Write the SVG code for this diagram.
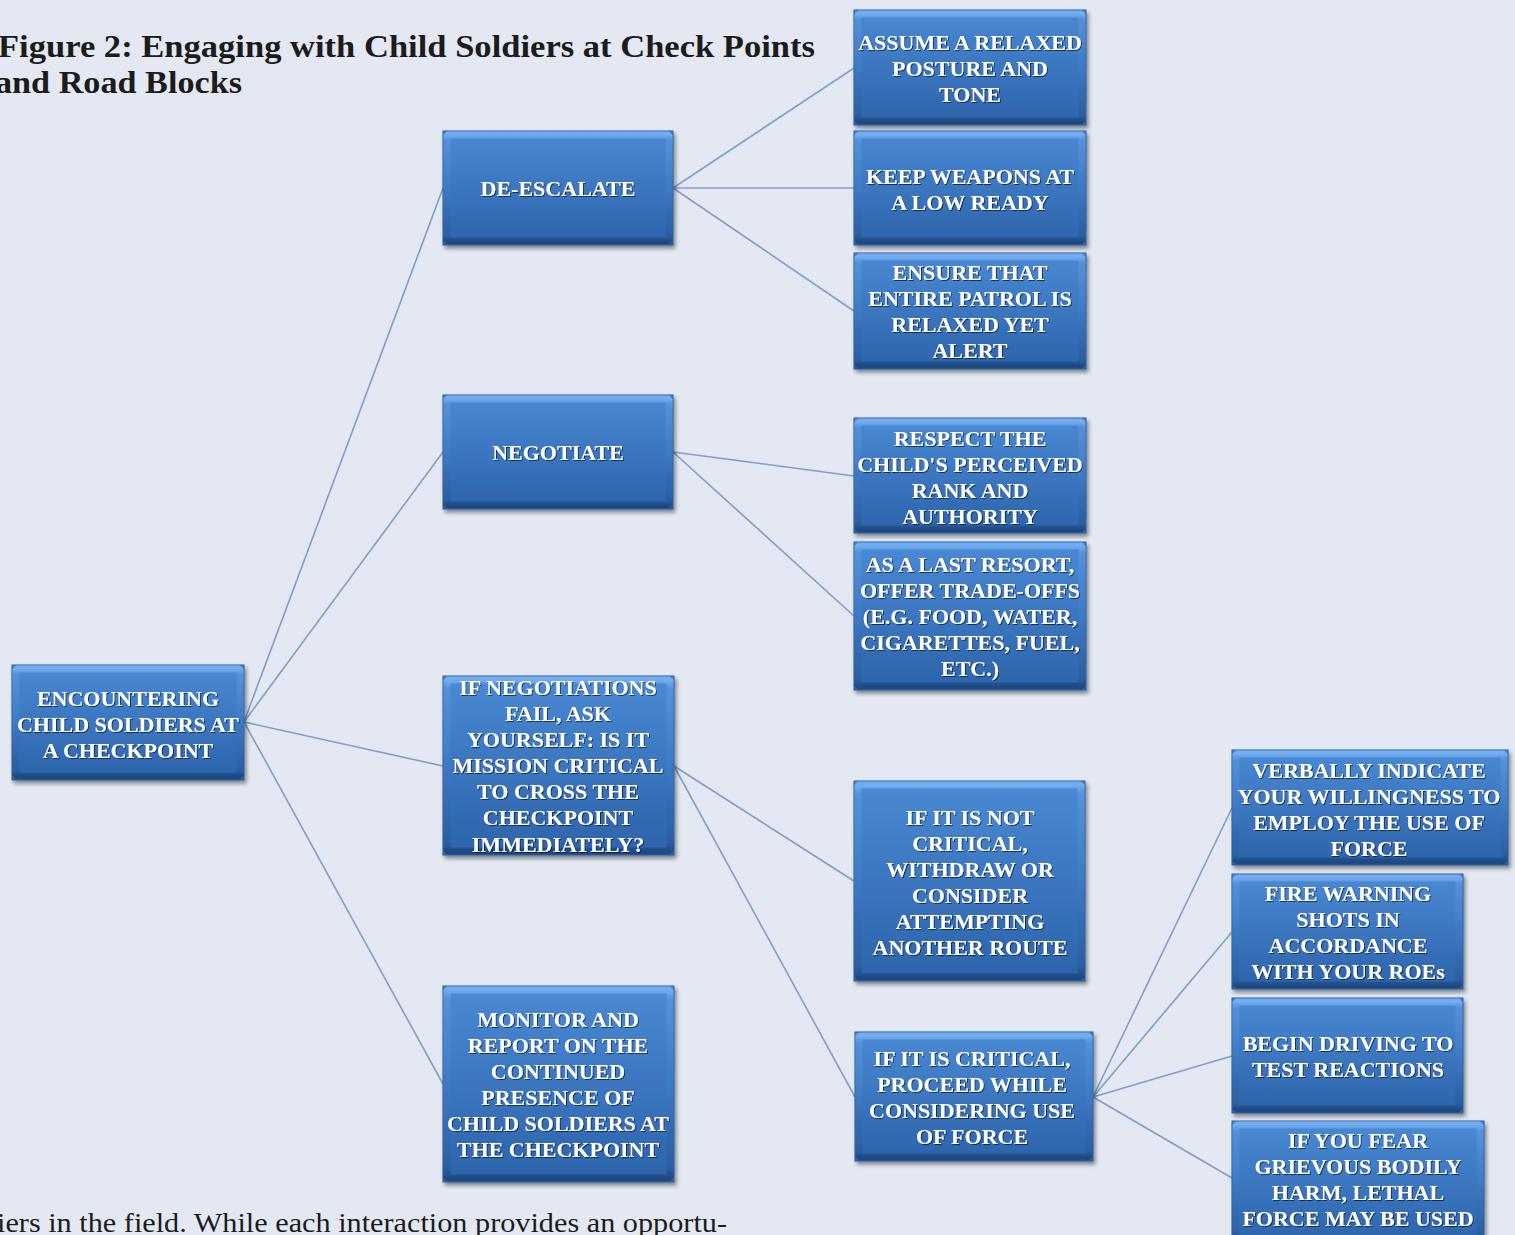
<svg xmlns="http://www.w3.org/2000/svg" width="1515" height="1235" viewBox="0 0 1515 1235">
<defs>
<linearGradient id="g" x1="0" y1="0" x2="0" y2="1">
<stop offset="0" stop-color="#4a8ad4"/>
<stop offset="1" stop-color="#2c63aa"/>
</linearGradient>
<linearGradient id="bev" x1="0" y1="0" x2="0" y2="1">
<stop offset="0" stop-color="#72adf0"/>
<stop offset="0.05" stop-color="#5591da"/>
<stop offset="0.5" stop-color="#3d7ac5"/>
<stop offset="0.95" stop-color="#2a5ea2"/>
<stop offset="1" stop-color="#1e4a84"/>
</linearGradient>
<filter id="ds" x="-5%" y="-5%" width="115%" height="115%">
<feGaussianBlur in="SourceAlpha" stdDeviation="2"/>
<feOffset dx="2" dy="3"/>
<feComponentTransfer><feFuncA type="linear" slope="0.45"/></feComponentTransfer>
<feMerge><feMergeNode/><feMergeNode in="SourceGraphic"/></feMerge>
</filter>
<filter id="ts" x="-5%" y="-20%" width="110%" height="140%">
<feOffset in="SourceAlpha" dx="1" dy="1"/>
<feComponentTransfer><feFuncA type="linear" slope="0.6"/></feComponentTransfer>
<feMerge><feMergeNode/><feMergeNode in="SourceGraphic"/></feMerge>
</filter>
</defs>
<style>
.bx{fill:url(#g);stroke:#2a5b9c;stroke-width:1;filter:url(#ds)}
.bv{fill:none;stroke:url(#bev);stroke-width:7;stroke-linejoin:bevel}
.t{font-family:"Liberation Serif","DejaVu Serif",serif;font-weight:bold;font-size:22px;fill:#ffffff;text-anchor:middle;filter:url(#ts)}
.c{fill:none;stroke:#7f9fcb;stroke-width:1.6}
.title{font-family:"Liberation Serif","DejaVu Serif",serif;font-weight:bold;font-size:32px;fill:#1c1c1c}
.body{font-family:"Liberation Serif","DejaVu Serif",serif;font-size:27px;fill:#1c1c1c}
</style>
<rect width="1515" height="1235" fill="#e3e8f2"/>
<g id="title">
<text class="title" x="-2" y="57" textLength="817" lengthAdjust="spacingAndGlyphs">Figure 2:  Engaging with Child Soldiers at Check Points</text>
<text class="title" x="-5" y="93" textLength="247" lengthAdjust="spacingAndGlyphs">and Road Blocks</text>
</g>
<text class="body" x="-3" y="1232" textLength="730" lengthAdjust="spacingAndGlyphs">iers in the field.  While each interaction provides an opportu-</text>
<g id="connectors">
<path class="c" d="M244,722 L443,188"/>
<path class="c" d="M244,722 L443,452"/>
<path class="c" d="M244,722 L443,766"/>
<path class="c" d="M244,722 L443,1084"/>
<path class="c" d="M673,188 L854,68"/>
<path class="c" d="M673,188 L854,188"/>
<path class="c" d="M673,188 L854,311"/>
<path class="c" d="M673,452 L854,476"/>
<path class="c" d="M673,452 L854,616"/>
<path class="c" d="M674,766 L854,881"/>
<path class="c" d="M674,766 L855,1097"/>
<path class="c" d="M1093,1097 L1232,808"/>
<path class="c" d="M1093,1097 L1232,932"/>
<path class="c" d="M1093,1097 L1232,1056"/>
<path class="c" d="M1093,1097 L1232,1178"/>
</g>
<g id="n-root"><rect class="bx" x="12" y="665" width="232" height="115"/><rect class="bv" x="16" y="669" width="224" height="107"/>
<text class="t"><tspan x="128" y="706">ENCOUNTERING</tspan><tspan x="128" y="732">CHILD SOLDIERS AT</tspan><tspan x="128" y="758">A CHECKPOINT</tspan></text></g>
<g id="n-deescalate"><rect class="bx" x="443" y="131" width="230" height="114"/><rect class="bv" x="447" y="135" width="222" height="106"/>
<text class="t"><tspan x="558" y="196">DE-ESCALATE</tspan></text></g>
<g id="n-negotiate"><rect class="bx" x="443" y="395" width="230" height="114"/><rect class="bv" x="447" y="399" width="222" height="106"/>
<text class="t"><tspan x="558" y="460">NEGOTIATE</tspan></text></g>
<g id="n-ifneg"><rect class="bx" x="443" y="676" width="231" height="179"/><rect class="bv" x="447" y="680" width="223" height="171"/>
<text class="t"><tspan x="558" y="695">IF NEGOTIATIONS</tspan><tspan x="558" y="721">FAIL, ASK</tspan><tspan x="558" y="747">YOURSELF: IS IT</tspan><tspan x="558" y="773">MISSION CRITICAL</tspan><tspan x="558" y="799">TO CROSS THE</tspan><tspan x="558" y="825">CHECKPOINT</tspan><tspan x="558" y="852">IMMEDIATELY?</tspan></text></g>
<g id="n-monitor"><rect class="bx" x="443" y="986" width="231" height="196"/><rect class="bv" x="447" y="990" width="223" height="188"/>
<text class="t"><tspan x="558" y="1027">MONITOR AND</tspan><tspan x="558" y="1053">REPORT ON THE</tspan><tspan x="558" y="1079">CONTINUED</tspan><tspan x="558" y="1105">PRESENCE OF</tspan><tspan x="558" y="1131">CHILD SOLDIERS AT</tspan><tspan x="558" y="1157">THE CHECKPOINT</tspan></text></g>
<g id="n-assume"><rect class="bx" x="854" y="10" width="232" height="115"/><rect class="bv" x="858" y="14" width="224" height="107"/>
<text class="t"><tspan x="970" y="50">ASSUME A RELAXED</tspan><tspan x="970" y="76">POSTURE AND</tspan><tspan x="970" y="102">TONE</tspan></text></g>
<g id="n-keep"><rect class="bx" x="854" y="131" width="232" height="114"/><rect class="bv" x="858" y="135" width="224" height="106"/>
<text class="t"><tspan x="970" y="184">KEEP WEAPONS AT</tspan><tspan x="970" y="210">A LOW READY</tspan></text></g>
<g id="n-ensure"><rect class="bx" x="854" y="253" width="232" height="116"/><rect class="bv" x="858" y="257" width="224" height="108"/>
<text class="t"><tspan x="970" y="280">ENSURE THAT</tspan><tspan x="970" y="306">ENTIRE PATROL IS</tspan><tspan x="970" y="332">RELAXED YET</tspan><tspan x="970" y="358">ALERT</tspan></text></g>
<g id="n-respect"><rect class="bx" x="854" y="418" width="232" height="115"/><rect class="bv" x="858" y="422" width="224" height="107"/>
<text class="t"><tspan x="970" y="446">RESPECT THE</tspan><tspan x="970" y="472">CHILD'S PERCEIVED</tspan><tspan x="970" y="498">RANK AND</tspan><tspan x="970" y="524">AUTHORITY</tspan></text></g>
<g id="n-lastresort"><rect class="bx" x="854" y="542" width="232" height="148"/><rect class="bv" x="858" y="546" width="224" height="140"/>
<text class="t"><tspan x="970" y="572">AS A LAST RESORT,</tspan><tspan x="970" y="598">OFFER TRADE-OFFS</tspan><tspan x="970" y="624">(E.G. FOOD, WATER,</tspan><tspan x="970" y="650">CIGARETTES, FUEL,</tspan><tspan x="970" y="676">ETC.)</tspan></text></g>
<g id="n-notcritical"><rect class="bx" x="854" y="781" width="231" height="200"/><rect class="bv" x="858" y="785" width="223" height="192"/>
<text class="t"><tspan x="970" y="825">IF IT IS NOT</tspan><tspan x="970" y="851">CRITICAL,</tspan><tspan x="970" y="877">WITHDRAW OR</tspan><tspan x="970" y="903">CONSIDER</tspan><tspan x="970" y="929">ATTEMPTING</tspan><tspan x="970" y="955">ANOTHER ROUTE</tspan></text></g>
<g id="n-critical"><rect class="bx" x="855" y="1032" width="238" height="129"/><rect class="bv" x="859" y="1036" width="230" height="121"/>
<text class="t"><tspan x="972" y="1066">IF IT IS CRITICAL,</tspan><tspan x="972" y="1092">PROCEED WHILE</tspan><tspan x="972" y="1118">CONSIDERING USE</tspan><tspan x="972" y="1144">OF FORCE</tspan></text></g>
<g id="n-verbally"><rect class="bx" x="1232" y="750" width="276" height="115"/><rect class="bv" x="1236" y="754" width="268" height="107"/>
<text class="t"><tspan x="1369" y="778">VERBALLY INDICATE</tspan><tspan x="1369" y="804">YOUR WILLINGNESS TO</tspan><tspan x="1369" y="830">EMPLOY THE USE OF</tspan><tspan x="1369" y="856">FORCE</tspan></text></g>
<g id="n-fire"><rect class="bx" x="1232" y="874" width="231" height="115"/><rect class="bv" x="1236" y="878" width="223" height="107"/>
<text class="t"><tspan x="1348" y="901">FIRE WARNING</tspan><tspan x="1348" y="927">SHOTS IN</tspan><tspan x="1348" y="953">ACCORDANCE</tspan><tspan x="1348" y="979">WITH YOUR ROEs</tspan></text></g>
<g id="n-driving"><rect class="bx" x="1232" y="998" width="231" height="115"/><rect class="bv" x="1236" y="1002" width="223" height="107"/>
<text class="t"><tspan x="1348" y="1051">BEGIN DRIVING TO</tspan><tspan x="1348" y="1077">TEST REACTIONS</tspan></text></g>
<g id="n-fear"><rect class="bx" x="1232" y="1121" width="252" height="125"/><rect class="bv" x="1236" y="1125" width="244" height="117"/>
<text class="t"><tspan x="1358" y="1148">IF YOU FEAR</tspan><tspan x="1358" y="1174">GRIEVOUS BODILY</tspan><tspan x="1358" y="1200">HARM, LETHAL</tspan><tspan x="1358" y="1226">FORCE MAY BE USED</tspan></text></g>
</svg>
